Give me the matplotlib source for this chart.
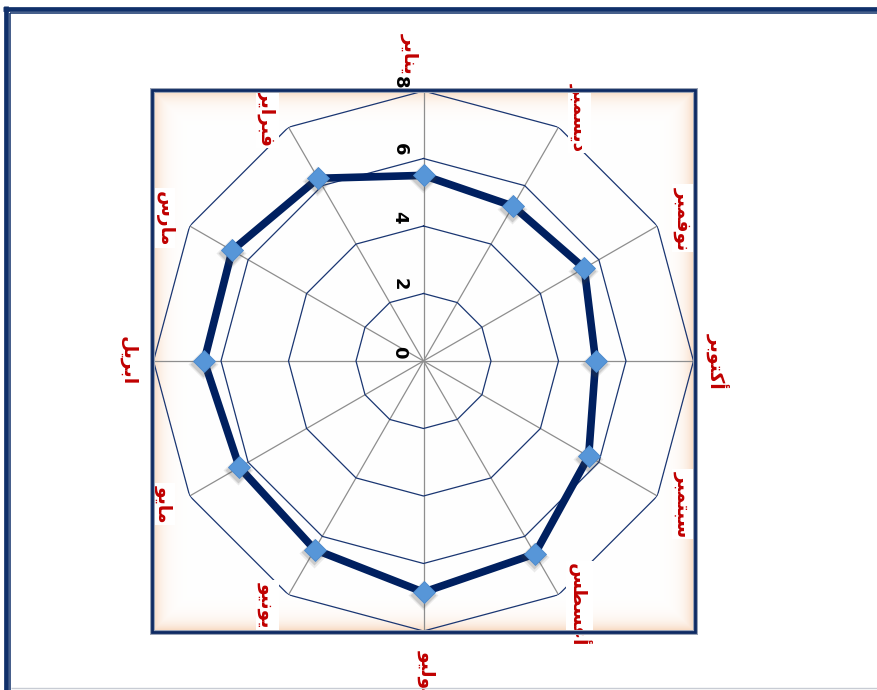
import numpy as np
import matplotlib
matplotlib.use("Agg")
import matplotlib.pyplot as plt
from matplotlib.lines import Line2D
from matplotlib.patches import Rectangle
import matplotlib.transforms as mtransforms

# ---------------- data ----------------
months = ['يناير', 'ديسمبر', 'نوفمبر', 'أكتوبر', 'سبتمبر', 'أغسطس',
          'يوليو', 'يونيو', 'مايو', 'ابريل', 'مارس', 'فبراير']
values = [5.5, 5.3, 5.5, 5.1, 5.65, 6.6, 6.85, 6.45, 6.3, 6.5, 6.55, 6.25]
r_ticks = [0, 2, 4, 6, 8]
r_tick_labels = ['0', '2', '4', '6', '8']

# ---------------- Arabic shaping (presentation forms, visual order) ----------------
FORMS = {  # isolated, final, initial, medial
    'ا': ('\uFE8D', '\uFE8E', None, None),
    'أ': ('\uFE83', '\uFE84', None, None),
    'ب': ('\uFE8F', '\uFE90', '\uFE91', '\uFE92'),
    'ت': ('\uFE95', '\uFE96', '\uFE97', '\uFE98'),
    'د': ('\uFEA9', '\uFEAA', None, None),
    'ر': ('\uFEAD', '\uFEAE', None, None),
    'س': ('\uFEB1', '\uFEB2', '\uFEB3', '\uFEB4'),
    'ط': ('\uFEC1', '\uFEC2', '\uFEC3', '\uFEC4'),
    'غ': ('\uFECD', '\uFECE', '\uFECF', '\uFED0'),
    'ف': ('\uFED1', '\uFED2', '\uFED3', '\uFED4'),
    'ك': ('\uFED9', '\uFEDA', '\uFEDB', '\uFEDC'),
    'ل': ('\uFEDD', '\uFEDE', '\uFEDF', '\uFEE0'),
    'م': ('\uFEE1', '\uFEE2', '\uFEE3', '\uFEE4'),
    'ن': ('\uFEE5', '\uFEE6', '\uFEE7', '\uFEE8'),
    'و': ('\uFEED', '\uFEEE', None, None),
    'ي': ('\uFEF1', '\uFEF2', '\uFEF3', '\uFEF4'),
}


def dual(c):
    return c in FORMS and FORMS[c][2] is not None


def shape(word):
    out = []
    n = len(word)
    for i, c in enumerate(word):
        if c not in FORMS:
            out.append(c)
            continue
        prev_j = i > 0 and dual(word[i - 1])
        next_j = i < n - 1 and dual(c) and word[i + 1] in FORMS
        iso, fin, ini, med = FORMS[c]
        if prev_j and next_j:
            out.append(med)
        elif prev_j:
            out.append(fin)
        elif next_j:
            out.append(ini)
        else:
            out.append(iso)
    return ''.join(reversed(out))


# ---------------- figure ----------------
W, H = 877, 690
fig = plt.figure(figsize=(W / 100, H / 100), dpi=100)
fig.patch.set_facecolor('white')

line_navy = '#002060'
frame = '#10306A'


def px_line(x0, y0, x1, y1, lw, color):
    fig.add_artist(Line2D([x0 / W, x1 / W], [1 - y0 / H, 1 - y1 / H],
                          transform=fig.transFigure, lw=lw, color=color,
                          solid_capstyle='butt'))


# outer double frame of the sheet
px_line(5.5, 6, 5.5, 690, 3.4, frame)
px_line(3, 8.5, 877, 8.5, 3.4, frame)
px_line(10, 12.5, 10, 690, 1.1, frame)
px_line(9.5, 13, 877, 13, 1.1, frame)
px_line(11, 688, 877, 688, 1.0, '#C8CCD4')

# box with inner glow
bx0, by0, bx1, by1 = 152, 90, 695, 632
bg = fig.add_axes([bx0 / W, 1 - by1 / H, (bx1 - bx0) / W, (by1 - by0) / H])
bg.set_axis_off()
bw, bh = bx1 - bx0, by1 - by0
yy, xx = np.mgrid[0:bh, 0:bw]
d = np.minimum(np.minimum(xx, bw - 1 - xx), np.minimum(yy, bh - 1 - yy)).astype(float)
alpha = np.exp(-d / 8.0)
img = np.ones((bh, bw, 4))
peach = np.array([0.97, 0.83, 0.72])
for k in range(3):
    img[..., k] = 1 - alpha * (1 - peach[k])
bg.imshow(img, extent=[0, 1, 0, 1], aspect='auto', interpolation='bilinear')
bg.set_xlim(0, 1)
bg.set_ylim(0, 1)
fig.add_artist(Rectangle((bx0 / W, 1 - by1 / H), bw / W, bh / H,
                         transform=fig.transFigure, fill=False,
                         edgecolor='#9AA3B5', lw=3.6))
fig.add_artist(Rectangle((bx0 / W, 1 - by1 / H), bw / W, bh / H,
                         transform=fig.transFigure, fill=False,
                         edgecolor='#0E2A63', lw=2.0))

# polar radar axes
cx, cy, R = 423.5, 361, 270
ax = fig.add_axes([(cx - R) / W, 1 - (cy + R) / H, 2 * R / W, 2 * R / H],
                  projection='polar')
ax.set_theta_zero_location('N')
ax.set_theta_direction(-1)
ax.set_ylim(0, 8)
ax.set_axis_off()
ax.patch.set_alpha(0)

n = len(months)
theta = np.arange(n) * 2 * np.pi / n
theta_c = np.append(theta, theta[0])

# spokes
for t in theta:
    ax.plot([t, t], [0, 8], color='#8E8E8E', lw=0.9, zorder=1)
# rings
for r in r_ticks[1:]:
    ax.plot(theta_c, [r] * (n + 1), color='#1A3672', lw=0.9, zorder=2)

# data line
vals_c = values + values[:1]
ax.plot(theta_c, vals_c, color=line_navy, lw=5.5, zorder=3,
        solid_joinstyle='miter')

# marker shadows
for dx, dy, ms, a in [(-1, -3, 15.5, 0.10), (-1, -2.5, 13.5, 0.18)]:
    tr = mtransforms.offset_copy(ax.transData, fig=fig, x=dx, y=dy, units='dots')
    ax.plot(theta, values, ls='none', marker='D', ms=ms, color='#404040',
            alpha=a, mec='none', transform=tr, zorder=4)
ax.plot(theta, values, ls='none', marker='D', ms=11.5, color='#5796D8',
        mec='#4A88CC', mew=0.6, zorder=5)

# radial tick labels
for r, lab in zip(r_ticks, r_tick_labels):
    ax.annotate(lab, xy=(0, r), xytext=(-24, 9), textcoords='offset pixels',
                ha='center', va='center', rotation=-90, fontsize=13,
                fontweight='bold', family='DejaVu Sans', color='black',
                annotation_clip=False, zorder=9)

# category labels (placement rule: nudged like the spreadsheet layout)
for i, (t, m) in enumerate(zip(theta, months)):
    deg_full = int(round(np.degrees(t)))
    deg = deg_full % 180          # 0 = vertical axis, 90 = horizontal
    rr, dt, ox = 8.75, 0.0, 0
    if deg == 0:
        rr = 9.12 if i == 0 else 9.25
        ox = -13 if i == 0 else 4
    elif deg in (30, 150):
        rr, dt = 8.58, 2.6
    elif deg in (60, 120):
        rr, dt = 8.78, 1.2
    # push angle away from the vertical axis
    sgn = 1 if deg < 90 else -1
    tt = t + sgn * np.radians(dt)
    ax.annotate(shape(m), xy=(tt, rr), xytext=(ox, 0),
                textcoords='offset pixels', ha='center', va='center',
                rotation=-90, fontsize=13.5, fontweight='bold', color='#C00000',
                family='DejaVu Sans', annotation_clip=False, zorder=7,
                bbox=dict(facecolor='white', edgecolor='none', pad=1.5))

fig.savefig('out.png', dpi=100, facecolor='white')
